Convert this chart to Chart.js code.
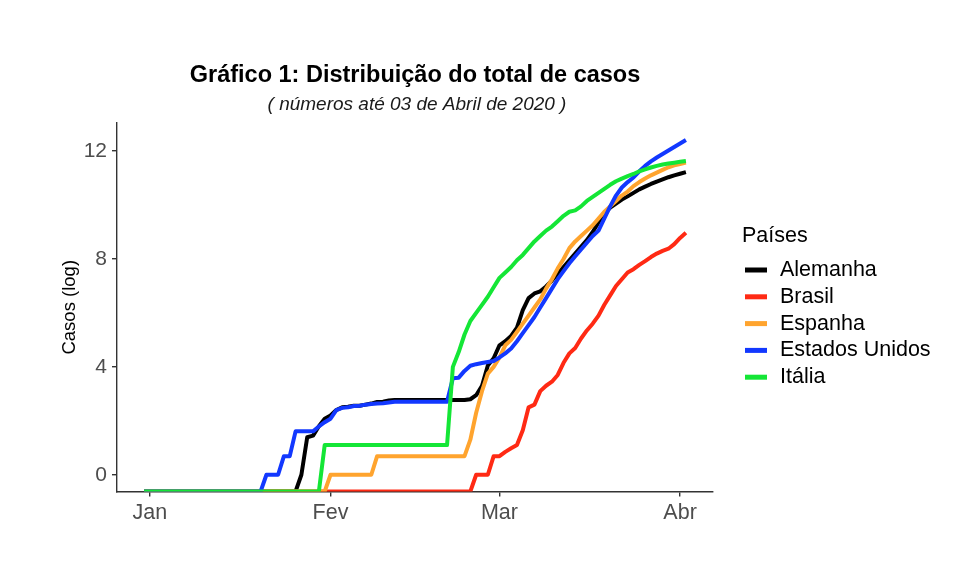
<!DOCTYPE html>
<html>
<head>
<meta charset="utf-8">
<title>Gráfico 1</title>
<script src="https://cdn.jsdelivr.net/npm/chart.js@4"></script>
<style>
  body { margin: 0; background: #fff; }
  canvas { display: block; }
</style>
</head>
<body>
<canvas id="grafico" width="980" height="567"></canvas>
<script>
// Dias contados a partir de 01/01/2020 (dia 0); a série vai de 31/12/2019 até 02/04/2020
const dias = [];
for (let d = -1; d <= 92; d++) dias.push(d);

// Ticks do eixo x
const xTicks = [0, 31, 60, 91];
const xLabels = ['Jan', 'Fev', 'Mar', 'Abr'];
const yTicks = [0, 4, 8, 12];

// _ = zero casos (log = -Inf, desenhado no limite inferior do painel)
const _ = null;

// log do total de casos, um valor por dia
const alemanha = [
  _,_,_,_,_,_,_,_,_,_,_,_,_,_,_,_,_,_,_,_,_,_,_,_,_,_,_,
  0, 1.39, 1.45, 1.8, 2.08, 2.2, 2.4, 2.5, 2.52, 2.56, 2.56, 2.6, 2.64, 2.7, 2.71, 2.75,
  2.77, 2.77, 2.77, 2.77, 2.77, 2.77, 2.77, 2.77, 2.77, 2.77, 2.77, 2.77, 2.77,
  2.8, 2.95, 3.3, 4.05, 4.32, 4.8, 4.95, 5.15, 5.45, 6.1, 6.55, 6.72, 6.8, 6.98, 7.2, 7.45, 7.7,
  7.95, 8.2, 8.45, 8.7, 9.0, 9.35, 9.7, 9.9, 10.05, 10.2, 10.32, 10.45, 10.58, 10.68, 10.78,
  10.87, 10.95, 11.03, 11.1, 11.16, 11.22
];
const brasil = [
  _,_,_,_,_,_,_,_,_,_,_,_,_,_,_,_,_,_,_,_,_,_,_,_,_,_,_,_,_,_,
  _,_,_,_,_,_,_,_,_,_,_,_,_,_,_,_,_,_,_,_,_,_,_,_,_,_,_,
  0, 0, 0, 0.69, 0.69, 0.85, 0.98, 1.1, 1.65, 2.5, 2.6, 3.1, 3.3, 3.45, 3.7, 4.15, 4.5, 4.7,
  5.05, 5.35, 5.6, 5.9, 6.3, 6.65, 7.0, 7.25, 7.5, 7.62, 7.78, 7.92, 8.07, 8.2, 8.3, 8.38,
  8.55, 8.78, 8.97
];
const espanha = [
  _,_,_,_,_,_,_,_,_,_,_,_,_,_,_,_,_,_,_,_,_,_,_,_,_,_,_,_,_,_,_,_,
  0, 0, 0, 0, 0, 0, 0, 0,
  0.69, 0.69, 0.69, 0.69, 0.69, 0.69, 0.69, 0.69, 0.69, 0.69, 0.69, 0.69, 0.69, 0.69, 0.69, 0.69,
  1.3, 2.3, 3.1, 3.75, 4.0, 4.35, 4.8, 5.0, 5.3, 5.6, 5.9, 6.2, 6.5, 6.9, 7.25, 7.65, 8.0, 8.4,
  8.65, 8.85, 9.05, 9.25, 9.5, 9.75, 9.95, 10.15, 10.35, 10.5, 10.7, 10.85, 10.98, 11.1, 11.2,
  11.3, 11.4, 11.47, 11.52, 11.57
];
const eua = [
  _,_,_,_,_,_,_,_,_,_,_,_,_,_,_,_,_,_,_,_,_,
  0, 0, 0, 0.69, 0.69, 1.61, 1.61, 1.61, 1.61, 1.79, 1.95, 2.08, 2.4, 2.48, 2.5, 2.55, 2.56,
  2.6, 2.62, 2.64, 2.65, 2.68, 2.71, 2.71, 2.71, 2.71, 2.71, 2.71, 2.71, 2.71, 2.71, 2.71,
  3.58, 3.6, 3.85, 4.04, 4.1, 4.14, 4.18, 4.22, 4.35, 4.5, 4.68, 4.95, 5.25, 5.55, 5.85, 6.2,
  6.55, 6.9, 7.25, 7.55, 7.84, 8.1, 8.35, 8.6, 8.85, 9.05, 9.5, 9.95, 10.35, 10.65, 10.85,
  11.02, 11.25, 11.45, 11.62, 11.76, 11.89, 12.02, 12.15, 12.28, 12.41
];
const italia = [
  _,_,_,_,_,_,_,_,_,_,_,_,_,_,_,_,_,_,_,_,_,_,_,_,_,_,_,_,_,_,_,
  1.1, 1.1, 1.1, 1.1, 1.1, 1.1, 1.1, 1.1, 1.1, 1.1, 1.1, 1.1, 1.1, 1.1, 1.1, 1.1, 1.1, 1.1,
  1.1, 1.1, 1.1, 1.1,
  4.0, 4.55, 5.2, 5.7, 6.0, 6.3, 6.6, 6.95, 7.3, 7.5, 7.7, 7.95, 8.15, 8.4, 8.65, 8.85, 9.05,
  9.2, 9.4, 9.6, 9.75, 9.8, 9.95, 10.15, 10.3, 10.45, 10.6, 10.75, 10.88, 10.98, 11.07, 11.15,
  11.25, 11.32, 11.39, 11.45, 11.5, 11.54, 11.57, 11.6, 11.63
];

const paises = ['Alemanha', 'Brasil', 'Espanha', 'Estados Unidos', 'Itália'];
const series = [alemanha, brasil, espanha, eua, italia];
const cores = ['#000000', '#ff2a14', '#ffa42e', '#1238ff', '#14e636'];

// limites do painel (com a expansão de 5% do ggplot)
const yMin = -0.62, yMax = 13.04;
const xMin = -5.65, xMax = 96.65;

const fonte = '"Liberation Sans", Arial, Helvetica, sans-serif';

const datasets = series.map((s, k) => ({
  label: paises[k],
  data: dias.map((d, i) => ({ x: d, y: s[i] === null ? yMin : s[i] })),
  borderColor: cores[k],
  borderWidth: 4,
  pointRadius: 0,
  fill: false,
  tension: 0,
  borderJoinStyle: 'round',
  order: paises.length - k   // Itália por cima, como no original
}));

// Título, subtítulo, título do eixo y e legenda
const textos = {
  id: 'textos',
  afterDraw(chart) {
    const ctx = chart.ctx;
    const a = chart.chartArea;
    const cx = (a.left + a.right) / 2;
    ctx.save();
    ctx.textBaseline = 'middle';
    ctx.fillStyle = '#000';
    ctx.textAlign = 'center';
    ctx.font = 'bold 23.5px ' + fonte;
    ctx.fillText('Gráfico 1: Distribuição do total de casos', cx, 76);
    ctx.font = 'italic 19px ' + fonte;
    ctx.fillStyle = '#1a1a1a';
    ctx.fillText('( números até 03 de Abril de 2020 )', cx + 2, 105);

    // título do eixo y
    ctx.save();
    ctx.translate(70, (a.top + a.bottom) / 2);
    ctx.rotate(-Math.PI / 2);
    ctx.font = '18.5px ' + fonte;
    ctx.fillStyle = '#000';
    ctx.fillText('Casos (log)', 0, 0);
    ctx.restore();

    // legenda
    ctx.textAlign = 'left';
    ctx.fillStyle = '#000';
    ctx.font = '21.5px ' + fonte;
    ctx.fillText('Países', 742, 236);
    paises.forEach((p, k) => {
      const y = 270 + k * 26.8;
      ctx.strokeStyle = cores[k];
      ctx.lineWidth = 5;
      ctx.beginPath();
      ctx.moveTo(745, y);
      ctx.lineTo(767, y);
      ctx.stroke();
      ctx.fillStyle = '#000';
      ctx.fillText(p, 780, y);
    });
    ctx.restore();
  }
};

const eixo = {
  border: { display: true, color: '#333333', width: 1.4 },
  grid: { drawOnChartArea: false, drawTicks: true, tickLength: 5, tickColor: '#333333', lineWidth: 1.4 }
};

new Chart(document.getElementById('grafico'), {
  type: 'line',
  data: { datasets },
  plugins: [textos],
  options: {
    responsive: false,
    animation: false,
    layout: { padding: { top: 123, right: 267, left: 0, bottom: 0 } },
    plugins: { legend: { display: false }, tooltip: { enabled: false } },
    scales: {
      x: {
        type: 'linear', min: xMin, max: xMax,
        ...eixo,
        afterFit: s => { s.height = 75.5; },
        afterBuildTicks: s => { s.ticks = xTicks.map(v => ({ value: v })); },
        ticks: {
          autoSkip: false, maxRotation: 0, padding: 4,
          color: '#4d4d4d', font: { family: fonte, size: 21.5 },
          callback: v => xLabels[xTicks.indexOf(v)]
        }
      },
      y: {
        type: 'linear', min: yMin, max: yMax,
        ...eixo,
        afterFit: s => { s.width = 117; },
        afterBuildTicks: s => { s.ticks = yTicks.map(v => ({ value: v })); },
        ticks: {
          padding: 5,
          color: '#4d4d4d', font: { family: fonte, size: 21 },
          callback: v => String(v)
        }
      }
    }
  }
});
</script>
</body>
</html>
